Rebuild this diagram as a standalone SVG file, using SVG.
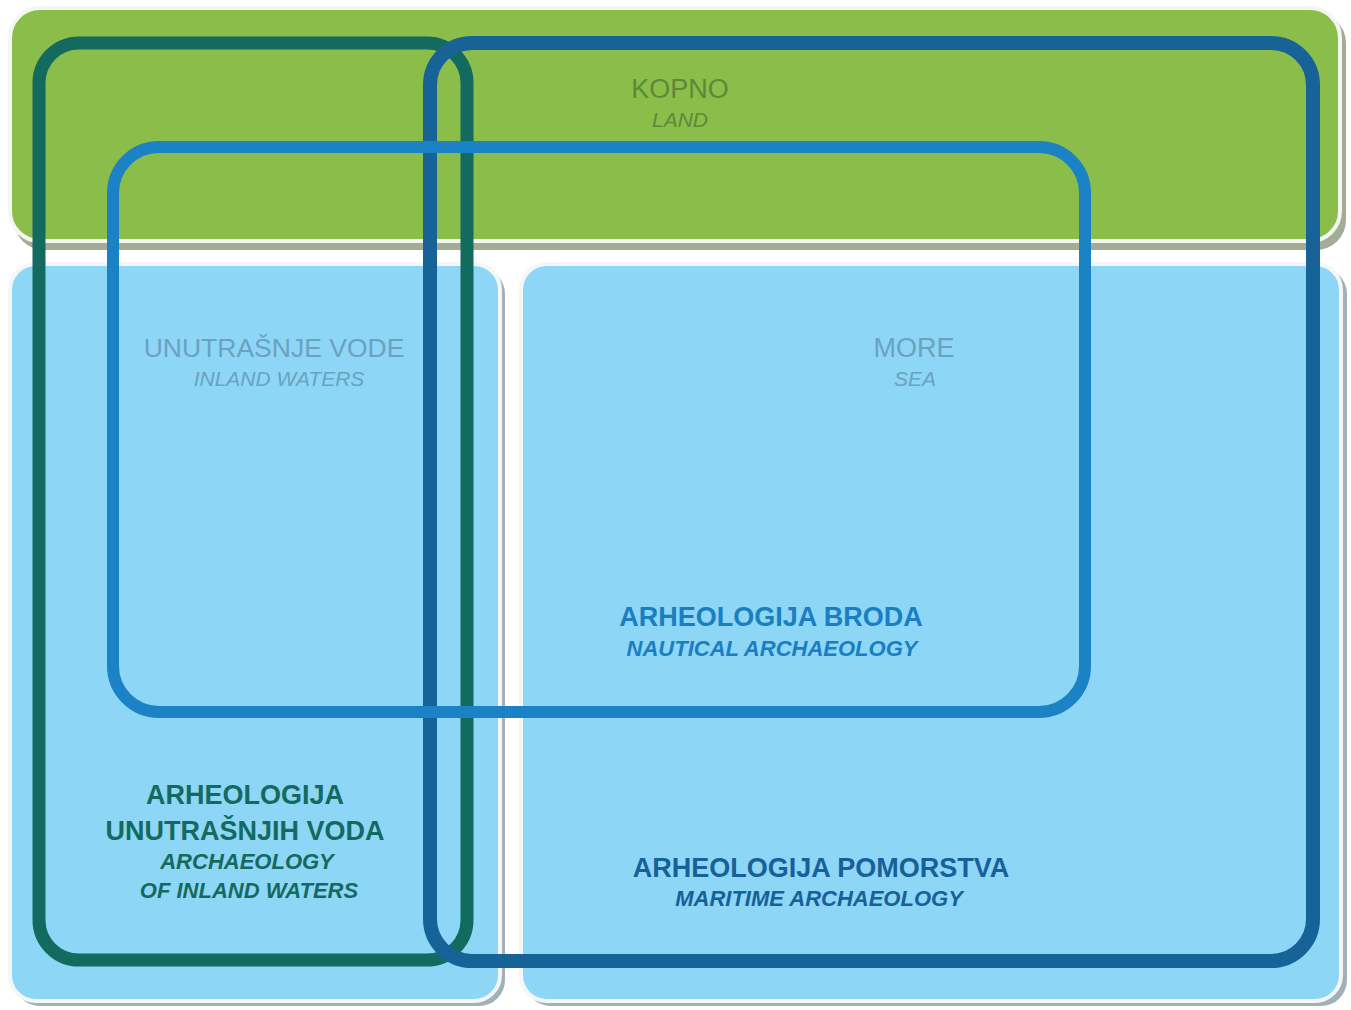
<svg xmlns="http://www.w3.org/2000/svg" width="1351" height="1010" viewBox="0 0 1351 1010">
<style>
.t{font-family:"Liberation Sans",Arial,sans-serif;text-anchor:middle}
.reg{font-size:27px}
.it{font-size:21px;font-style:italic}
.b{font-size:27px;font-weight:bold}
.bi{font-size:22px;font-weight:bold;font-style:italic}
.ring{fill:none}
</style>
<rect width="1351" height="1010" fill="#ffffff"/>
<g id="land">
  <rect x="14" y="13" width="1332" height="237" rx="30" fill="#a3ad95"/>
  <rect x="10" y="8" width="1330" height="233" rx="30" fill="#8bbd4b" stroke="#f4f6f2" stroke-width="4"/>
  <text class="t reg" x="680" y="98" fill="#5b8a37">KOPNO</text>
  <text class="t it" x="680" y="127" fill="#5b8a37">LAND</text>
</g>
<g id="inland-waters">
  <rect x="14" y="268" width="491" height="738" rx="26" fill="#a2b0b8"/>
  <rect x="10" y="264" width="490" height="737" rx="26" fill="#8dd6f5" stroke="#f4f6f7" stroke-width="4"/>
  <text class="t reg" x="274" y="357" fill="#6aa2bf" style="font-size:26.5px">UNUTRAŠNJE VODE</text>
  <text class="t it" x="279" y="386" fill="#6aa2bf">INLAND WATERS</text>
</g>
<g id="sea">
  <rect x="525" y="268" width="822" height="738" rx="26" fill="#a2b0b8"/>
  <rect x="521" y="264" width="820" height="737" rx="26" fill="#8dd6f5" stroke="#f4f6f7" stroke-width="4"/>
  <text class="t reg" x="914" y="357" fill="#6aa2bf">MORE</text>
  <text class="t it" x="915" y="386" fill="#6aa2bf">SEA</text>
</g>
<g id="inland-archaeology">
  <rect class="ring" x="39" y="43" width="428" height="917" rx="40" stroke="#136b60" stroke-width="13"/>
  <text class="t b" x="245" y="804" fill="#146a5e">ARHEOLOGIJA</text>
  <text class="t b" x="245" y="840" fill="#146a5e">UNUTRAŠNJIH VODA</text>
  <text class="t bi" x="247" y="869" fill="#146a5e">ARCHAEOLOGY</text>
  <text class="t bi" x="249" y="898" fill="#146a5e">OF INLAND WATERS</text>
</g>
<g id="maritime-archaeology">
  <rect class="ring" x="430" y="43" width="883" height="918" rx="42" stroke="#176297" stroke-width="14"/>
  <text class="t b" x="821" y="877" fill="#17609a">ARHEOLOGIJA POMORSTVA</text>
  <text class="t bi" x="819" y="906" fill="#17609a">MARITIME ARCHAEOLOGY</text>
</g>
<g id="nautical-archaeology">
  <rect class="ring" x="113" y="147" width="972" height="565" rx="46" stroke="#1b82c6" stroke-width="12"/>
  <text class="t b" x="771" y="626" fill="#1a7ec2">ARHEOLOGIJA BRODA</text>
  <text class="t bi" x="772" y="656" fill="#1a7ec2">NAUTICAL ARCHAEOLOGY</text>
</g>
<g id="connectors"></g>
</svg>
